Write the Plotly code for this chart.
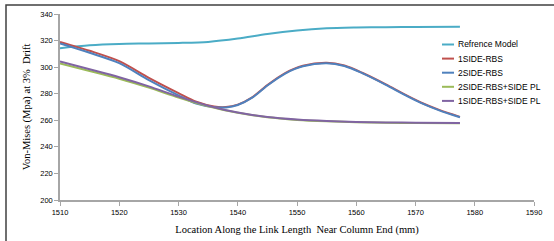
import plotly.graph_objects as go

x_ref = [1510, 1515, 1520, 1525, 1530, 1535, 1540, 1545, 1550, 1555, 1560, 1565, 1570, 1577.5]
y_ref = [314.3, 316.5, 317.5, 317.8, 318.2, 319.0, 321.5, 325.0, 327.6, 329.2, 329.8, 330.1, 330.3, 330.4]

x_bump = [1510, 1515, 1520, 1525, 1530, 1533, 1536, 1538, 1540, 1542.5, 1545, 1548, 1551, 1555,
          1558, 1561, 1565, 1568, 1571, 1574, 1577.5]
y_1rbs = [319.0, 312.3, 304.5, 292.0, 280.5, 274.0, 270.4, 270.0, 271.8, 277.5, 286.5, 295.5, 301.0, 303.3,
          301.2, 295.8, 287.0, 279.8, 273.2, 267.8, 262.6]
y_2rbs = [317.8, 310.8, 303.0, 290.2, 278.7, 272.6, 269.9, 269.7, 271.5, 277.2, 286.2, 295.2, 300.7, 303.0,
          300.9, 295.5, 286.7, 279.5, 272.9, 267.5, 262.3]

x_pl = [1510, 1515, 1520, 1525, 1530, 1535, 1540, 1545, 1550, 1555, 1560, 1565, 1570, 1577.5]
y_2pl = [302.7, 297.1, 291.3, 284.6, 277.2, 270.6, 265.6, 262.2, 260.3, 259.2, 258.5, 258.1, 257.9, 257.7]
y_1pl = [304.2, 298.4, 292.4, 285.5, 277.8, 271.0, 265.8, 262.4, 260.5, 259.4, 258.8, 258.4, 258.2, 258.0]

x_ticks = [1510, 1520, 1530, 1540, 1550, 1560, 1570, 1580, 1590]
y_ticks = [200, 220, 240, 260, 280, 300, 320, 340]

series = [
    ("Refrence Model", x_ref, y_ref, "#4BACC6"),
    ("1SIDE-RBS", x_bump, y_1rbs, "#C0504D"),
    ("2SIDE-RBS", x_bump, y_2rbs, "#4F81BD"),
    ("2SIDE-RBS+SIDE PL", x_pl, y_2pl, "#9BBB59"),
    ("1SIDE-RBS+SIDE PL", x_pl, y_1pl, "#8064A2"),
]

W, H = 554, 241
L, R, T, B = 60, 20, 14, 41
pw, ph = W - L - R, H - T - B

def px(xp):
    return (xp - L) / pw

def py(yp):
    return (H - B - yp) / ph

fig = go.Figure()
for name, xs, ys, col in series:
    fig.add_trace(go.Scatter(x=xs, y=ys, name=name, mode="lines", showlegend=False,
                             line=dict(color=col, width=2, shape="spline", smoothing=0.8)))

# legend drawn as line keys + text labels
for i, (name, xs, ys, col) in enumerate(series):
    yy = 44.5 + 14.1 * i
    fig.add_shape(type="line", xref="paper", yref="paper",
                  x0=px(442), x1=px(454), y0=py(yy), y1=py(yy),
                  line=dict(color=col, width=2))
    fig.add_annotation(xref="paper", yref="paper", x=px(456), y=py(yy),
                       xanchor="left", yanchor="middle", showarrow=False, text=name,
                       font=dict(family="Liberation Sans", size=8.5, color="#000000"))

fig.update_layout(
    width=W, height=H,
    margin=dict(l=L, r=R, t=T, b=B),
    paper_bgcolor="white", plot_bgcolor="white",
    xaxis=dict(range=[1510, 1590], tickvals=x_ticks, showgrid=False, zeroline=False,
               automargin=False,
               showline=True, linecolor="#A6A6A6", linewidth=1.5,
               ticks="outside", ticklen=4, tickcolor="#A6A6A6",
               tickfont=dict(family="Liberation Sans", size=7.5, color="#000000"),
               title=dict(text="Location Along the Link Length  Near Column End (mm)",
                          font=dict(family="Liberation Serif", size=10.5, color="#000000"),
                          standoff=10)),
    yaxis=dict(range=[200, 340], tickvals=y_ticks, showgrid=False, zeroline=False,
               automargin=False,
               showline=True, linecolor="#A6A6A6", linewidth=1.5,
               ticks="outside", ticklen=4, tickcolor="#A6A6A6",
               tickfont=dict(family="Liberation Sans", size=7.5, color="#000000"),
               title=dict(text="Von-Mises (Mpa) at 3%  Drift",
                          font=dict(family="Liberation Serif", size=10.5, color="#000000"),
                          standoff=8)),
)

fig.add_shape(type="rect", xref="paper", yref="paper",
              x0=px(6), x1=px(600), y0=py(300), y1=py(5),
              line=dict(color="#404040", width=1.5), fillcolor="rgba(0,0,0,0)", layer="below")

fig.write_html("out.html", config={"displayModeBar": False},
               post_script="document.body.style.margin='0px';document.body.style.overflow='hidden';")
